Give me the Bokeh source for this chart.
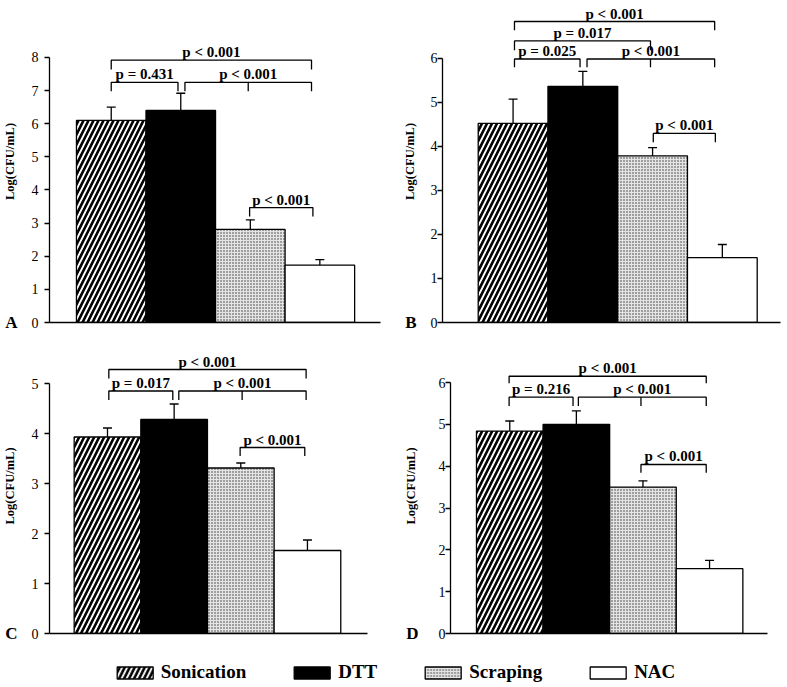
from bokeh.plotting import figure
from bokeh.models import (Range1d, FixedTicker, ColumnDataSource, Whisker, TeeHead,
                          LinearAxis, Legend, LegendItem)
from bokeh.layouts import row, column
from bokeh.embed import file_html
from bokeh.resources import INLINE
from bokeh.core.properties import value

# ---------------- data ----------------
categories = ["Sonication", "DTT", "Scraping", "NAC"]

a_means = [6.10, 6.40, 2.81, 1.73]
a_errs = [0.40, 0.52, 0.29, 0.17]
b_means = [4.52, 5.36, 3.78, 1.47]
b_errs = [0.55, 0.34, 0.19, 0.30]
c_means = [3.93, 4.28, 3.31, 1.66]
c_errs = [0.18, 0.31, 0.10, 0.21]
d_means = [4.84, 5.00, 3.50, 1.55]
d_errs = [0.24, 0.32, 0.15, 0.20]

a_ticks = [0, 1, 2, 3, 4, 5, 6, 7, 8]
b_ticks = [0, 1, 2, 3, 4, 5, 6]
c_ticks = [0, 1, 2, 3, 4, 5]
d_ticks = [0, 1, 2, 3, 4, 5, 6]

# significance brackets: (from, to, level, leg end, middle tick, label)
a_brackets = [
    (1.00, 3.88, 7.92, 7.64, None, "p < 0.001"),
    (1.00, 1.96, 7.25, 6.98, None, "p = 0.431"),
    (2.06, 3.88, 7.25, 6.98, 2.97, "p < 0.001"),
    (2.99, 3.90, 3.47, 3.20, None, "p < 0.001"),
]
b_brackets = [
    (1.02, 3.89, 6.83, 6.63, None, "p < 0.001"),
    (1.02, 2.97, 6.39, 6.18, None, "p = 0.017"),
    (1.02, 1.96, 5.98, 5.79, None, "p = 0.025"),
    (2.06, 3.89, 5.98, 5.79, 2.97, "p < 0.001"),
    (3.01, 3.90, 4.29, 4.09, None, "p < 0.001"),
]
c_brackets = [
    (1.02, 3.98, 5.28, 5.10, None, "p < 0.001"),
    (1.02, 1.98, 4.85, 4.67, None, "p = 0.017"),
    (2.07, 3.98, 4.85, 4.67, 3.02, "p < 0.001"),
    (2.99, 3.96, 3.72, 3.55, None, "p < 0.001"),
]
d_brackets = [
    (0.99, 3.95, 6.15, 5.98, None, "p < 0.001"),
    (0.99, 1.95, 5.65, 5.44, None, "p = 0.216"),
    (2.03, 3.95, 5.65, 5.44, 2.97, "p < 0.001"),
    (2.97, 3.95, 4.04, 3.84, None, "p < 0.001"),
]

# ---------------- styles ----------------
SERIF = "Liberation Serif"
styles = {
    "Sonication": dict(fill_color="white", hatch_pattern="/", hatch_color="black",
                       hatch_scale=10, hatch_weight=2.6),
    "DTT": dict(fill_color="black"),
    "Scraping": dict(fill_color="#e4e4e4", hatch_pattern=".", hatch_color="#333333",
                     hatch_scale=3, hatch_weight=1.0),
    "NAC": dict(fill_color="white"),
}


def panel(letter, means, errs, ticks, brackets, width, height, left, right, bottom,
          xr, yr, mls, letter_standoff, label_standoff):
    p = figure(width=width, height=height, x_range=Range1d(*xr), y_range=Range1d(*yr),
               output_backend="svg", toolbar_location=None,
               min_border_left=left, min_border_right=right, min_border_top=0,
               min_border_bottom=bottom)
    p.outline_line_color = None
    p.grid.visible = False

    xs = list(range(1, len(categories) + 1))
    for x, cat, m in zip(xs, categories, means):
        p.vbar(x=[x], top=[m], bottom=0, width=1.0, line_color="black", line_width=1.3,
               **styles[cat])

    src = ColumnDataSource(dict(x=xs, lower=means, upper=[m + e for m, e in zip(means, errs)]))
    p.add_layout(Whisker(source=src, base="x", lower="lower", upper="upper",
                         line_width=1.3, line_color="black",
                         upper_head=TeeHead(size=9, line_width=1.3, line_color="black"),
                         lower_head=None))

    lx, ly, tx, ty, tt = [], [], [], [], []
    for (x0, x1, yl, yb, xm, lab) in brackets:
        lx.append([x0, x0, x1, x1])
        ly.append([yb, yl, yl, yb])
        if xm is not None:
            lx.append([xm, xm])
            ly.append([yl, yb])
        tx.append((x0 + x1) / 2)
        ty.append(yl)
        tt.append(lab)
    p.multi_line(lx, ly, line_color="black", line_width=1.3)
    p.text(tx, ty, text=tt, text_align="center", text_baseline="bottom",
           text_font=value(SERIF), text_font_style="bold", text_font_size="15px",
           text_color="black")

    p.xaxis.ticker = FixedTicker(ticks=[])
    p.xaxis.major_label_text_font_size = "0px"
    p.xaxis.axis_line_width = 1.3
    p.xaxis.major_tick_line_color = None
    p.xaxis.minor_tick_line_color = None

    p.yaxis.ticker = FixedTicker(ticks=ticks)
    p.yaxis.bounds = (0, ticks[-1])
    p.yaxis.minor_tick_line_color = None
    p.yaxis.major_tick_in = 0
    p.yaxis.major_tick_out = 5
    p.yaxis.axis_line_width = 1.3
    p.yaxis.major_tick_line_width = 1.3
    p.yaxis.major_label_text_font = SERIF
    p.yaxis.major_label_text_font_size = "14px"
    p.yaxis.major_label_text_color = "black"
    p.yaxis.major_label_standoff = mls

    # outer left axis: panel letter at y = 0 and the axis title
    outer = LinearAxis(ticker=FixedTicker(ticks=[0]), major_label_overrides={0: letter},
                       axis_line_color=None, major_tick_line_color=None,
                       minor_tick_line_color=None, major_tick_in=0, major_tick_out=0,
                       major_label_standoff=letter_standoff,
                       major_label_text_font=SERIF, major_label_text_font_style="bold",
                       major_label_text_font_size="17px", major_label_text_color="black",
                       axis_label="Log(CFU/mL)", axis_label_text_font=SERIF,
                       axis_label_text_font_style="bold", axis_label_text_font_size="12.5px",
                       axis_label_text_color="black", axis_label_standoff=label_standoff)
    p.add_layout(outer, "left")
    return p


pA = panel("A", a_means, a_errs, a_ticks, a_brackets, 400, 338, 48, 20, 16,
           (0.1125, 4.872), (0, 9.72), 6, 11, -15)
pB = panel("B", b_means, b_errs, b_ticks, b_brackets, 387, 338, 42, 7, 16,
           (-0.012, 4.834), (0, 7.307), 0, 11, -15)
pC = panel("C", c_means, c_errs, c_ticks, c_brackets, 400, 307, 48, 33, 12,
           (0.130, 4.901), (0, 5.9), 6, 11, -15)
pD = panel("D", d_means, d_errs, d_ticks, d_brackets, 387, 307, 50, 20, 12,
           (0.110, 4.870), (0, 7.052), 0, 17, -15)

# ---------------- legend ----------------
# hidden proxy bars (one per category) that feed the legend strip
lf = figure(width=787, height=40, x_range=Range1d(0, 5), y_range=Range1d(0, 10),
            output_backend="svg", toolbar_location=None, min_border=0,
            min_border_top=14, x_axis_location=None, y_axis_location=None)
lf.outline_line_color = None
lf.grid.visible = False
items = []
for i, cat in enumerate(categories):
    r = lf.vbar(x=[i + 1], top=[a_means[i]], width=1.0, line_color="black",
                line_width=1.3, visible=False, **styles[cat])
    items.append(LegendItem(label=cat, renderers=[r]))
leg = Legend(items=items, orientation="horizontal", location="center",
             border_line_color=None, background_fill_alpha=0, padding=0, margin=0,
             spacing=43, glyph_width=45, glyph_height=15, label_standoff=4,
             label_text_font=SERIF, label_text_font_style="bold",
             label_text_font_size="19px", label_text_color="black",
             inactive_fill_alpha=0)
lf.add_layout(leg)

layout = column(row(pA, pB), row(pC, pD), lf)

open("out.html", "w").write(file_html(layout, INLINE))
